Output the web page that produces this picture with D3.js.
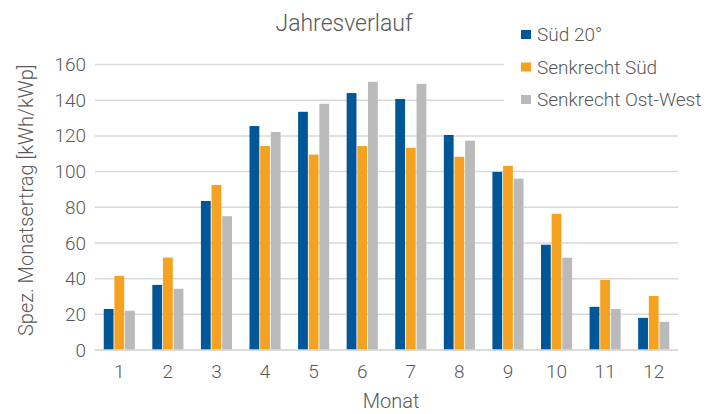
<!DOCTYPE html>
<html>
<head>
<meta charset="utf-8">
<script src="https://cdn.jsdelivr.net/npm/d3@7/dist/d3.min.js"></script>
<style>
  body { margin: 0; background: #fff; }
  svg text { font-family: Roboto, "Noto Sans", sans-serif; font-weight: 300; fill: #595959; }
</style>
</head>
<body>
<div id="chart"></div>
<script>
// monthly yield per kWp
var months = ["1", "2", "3", "4", "5", "6", "7", "8", "9", "10", "11", "12"];
var seriesNames = ["Süd 20°", "Senkrecht Süd", "Senkrecht Ost-West"];
var sued20 = [23, 36.5, 83.5, 125.5, 133.5, 144, 140.7, 120.5, 99.8, 59, 24.2, 18];
var senkrechtSued = [41.5, 51.8, 92.5, 114.3, 109.5, 114.3, 113.3, 108.3, 103.2, 76.3, 39.3, 30.3];
var senkrechtOstWest = [22, 34.3, 75, 122.2, 138, 150.3, 149.2, 117.3, 96, 51.7, 23, 15.8];
var yTicks = [0, 20, 40, 60, 80, 100, 120, 140, 160];
var colors = ["#005798", "#f4a21f", "#bababa"];

var width = 716, height = 414;
var margin = { top: 64.5, right: 38, bottom: 64, left: 95 };

var svg = d3.select("#chart")
    .append("svg")
    .attr("width", width)
    .attr("height", height);

var x0 = d3.scaleBand()
    .domain(months)
    .range([margin.left, width - margin.right])
    .paddingInner(0.36)
    .paddingOuter(0.18);

var x1 = d3.scaleBand()
    .domain(seriesNames)
    .range([0, x0.bandwidth()])
    .paddingInner(0.08);

var y = d3.scaleLinear()
    .domain([0, 160])
    .range([height - margin.bottom, margin.top]);

// gridlines
svg.append("g")
    .selectAll("line")
    .data(yTicks)
    .join("line")
    .attr("x1", margin.left)
    .attr("x2", width - margin.right)
    .attr("y1", function (d) { return y(d); })
    .attr("y2", function (d) { return y(d); })
    .attr("stroke", "#d9d9d9")
    .attr("stroke-width", 1.5);

// bars
var rows = months.map(function (m, i) {
    return { month: m, values: [sued20[i], senkrechtSued[i], senkrechtOstWest[i]] };
});

var groups = svg.append("g")
    .selectAll("g")
    .data(rows)
    .join("g")
    .attr("transform", function (d) { return "translate(" + x0(d.month) + ",0)"; });

groups.selectAll("rect")
    .data(function (d) { return d.values.map(function (v, k) { return { name: seriesNames[k], value: v, k: k }; }); })
    .join("rect")
    .attr("x", function (d) { return x1(d.name); })
    .attr("width", x1.bandwidth())
    .attr("y", function (d) { return y(d.value); })
    .attr("height", function (d) { return y(0) - y(d.value); })
    .attr("fill", function (d) { return colors[d.k]; });

// y axis labels
var yAxis = d3.axisLeft(y).tickValues(yTicks).tickSize(0).tickPadding(9);
svg.append("g")
    .attr("transform", "translate(" + margin.left + ",0)")
    .call(yAxis)
    .call(function (g) { g.select(".domain").remove(); })
    .selectAll("text")
    .style("font-size", "19px")
    .style("font-family", "Roboto, sans-serif")
    .attr("fill", "#595959");

// x axis labels
var xAxis = d3.axisBottom(x0).tickSize(0).tickPadding(15);
svg.append("g")
    .attr("transform", "translate(0," + y(0) + ")")
    .call(xAxis)
    .call(function (g) { g.select(".domain").remove(); })
    .selectAll("text")
    .style("font-size", "19px")
    .style("font-family", "Roboto, sans-serif")
    .attr("fill", "#595959");

// baseline
svg.append("line")
    .attr("x1", margin.left)
    .attr("x2", width - margin.right)
    .attr("y1", y(0))
    .attr("y2", y(0))
    .attr("stroke", "#d9d9d9")
    .attr("stroke-width", 1.5);

// titles
svg.append("text")
    .attr("x", 344)
    .attr("y", 31)
    .attr("text-anchor", "middle")
    .style("font-size", "23px")
    .text("Jahresverlauf");

svg.append("text")
    .attr("x", 391)
    .attr("y", 408)
    .attr("text-anchor", "middle")
    .style("font-size", "20px")
    .text("Monat");

svg.append("text")
    .attr("transform", "translate(33," + ((y(0) + y(160)) / 2 - 7) + ") rotate(-90)")
    .attr("text-anchor", "middle")
    .style("font-size", "20px")
    .text("Spez. Monatsertrag [kWh/kWp]");

// legend, white box covers the top gridlines
var legend = svg.append("g");
legend.append("rect")
    .attr("x", 504)
    .attr("y", 0)
    .attr("width", 212)
    .attr("height", 118)
    .attr("fill", "#fff");

var items = legend.selectAll("g")
    .data(seriesNames)
    .join("g")
    .attr("transform", function (d, i) { return "translate(521," + (30 + i * 32.5) + ")"; });

items.append("rect")
    .attr("width", 10)
    .attr("height", 9)
    .attr("fill", function (d, i) { return colors[i]; });

items.append("text")
    .attr("x", 16)
    .attr("y", 11)
    .style("font-size", "19px")
    .text(function (d) { return d; });
</script>
</body>
</html>
